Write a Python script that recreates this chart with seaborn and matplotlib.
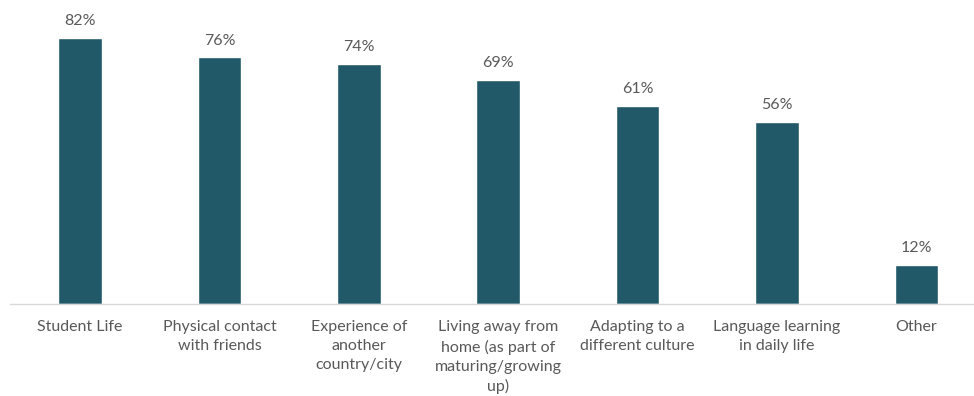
import matplotlib
matplotlib.use("Agg")
import matplotlib.pyplot as plt
import seaborn as sns
import pandas as pd

categories = [
    "Student Life",
    "Physical contact\nwith friends",
    "Experience of\nanother\ncountry/city",
    "Living away from\nhome (as part of\nmaturing/growing\nup)",
    "Adapting to a\ndifferent culture",
    "Language learning\nin daily life",
    "Other",
]
values = [82, 76, 74, 69, 61, 56, 12]
value_labels = ["82%", "76%", "74%", "69%", "61%", "56%", "12%"]

df = pd.DataFrame({"category": categories, "value": values})

sns.set_theme(style="white")
plt.rcParams["font.family"] = ["Lato", "DejaVu Sans"]

W, H = 974, 396
fig = plt.figure(figsize=(W / 100, H / 100), dpi=100)
base_px = 303.5
left_px = 10.3
right_px = 986.0
top_px = 10.0
ax = fig.add_axes([left_px / W, (H - base_px) / H,
                   (right_px - left_px) / W, (base_px - top_px) / H])

bar_color = "#215968"
sns.barplot(data=df, x="category", y="value", color=bar_color,
            width=0.312, saturation=1, ax=ax)

ax.set_xlim(-0.5, len(categories) - 0.5)
ax.set_ylim(0, (base_px - top_px) / 3.24)

text_color = "#595959"
for i, (v, lab) in enumerate(zip(values, value_labels)):
    ax.annotate(lab, (i, v), xytext=(0, 7), textcoords="offset points",
                ha="center", va="bottom", fontsize=11.5, color=text_color)

ax.set_xlabel("")
ax.set_ylabel("")
ax.set_yticks([])
ax.tick_params(axis="x", length=0, pad=12, labelsize=11.5, labelcolor=text_color)
for t in ax.get_xticklabels():
    t.set_linespacing(1.45)
    t.set_verticalalignment("top")

for s in ["top", "right", "left"]:
    ax.spines[s].set_visible(False)
ax.spines["bottom"].set_color("#D9D9D9")
ax.spines["bottom"].set_linewidth(1.0)

fig.savefig("out.png", dpi=100, facecolor="white")
